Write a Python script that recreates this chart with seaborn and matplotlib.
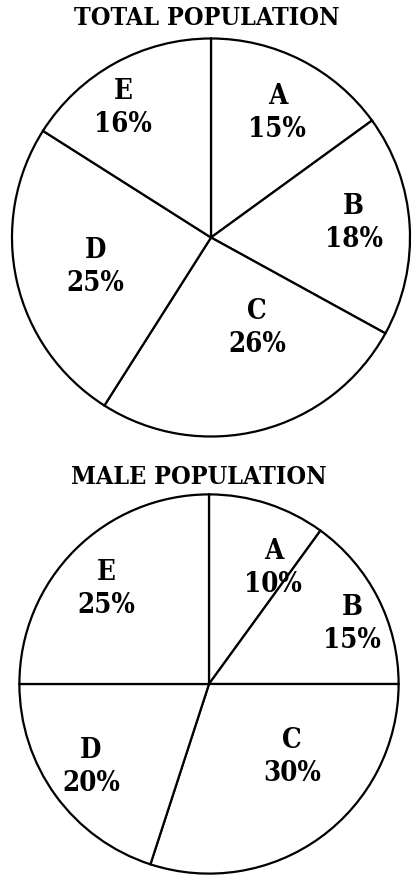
import matplotlib
matplotlib.use("Agg")
import matplotlib.pyplot as plt
import seaborn as sns
import numpy as np

# ---- data ----
regions = ["A", "B", "C", "D", "E"]
total_share = [15, 18, 26, 25, 16]
male_share = [10, 15, 30, 20, 25]
titles = ["TOTAL POPULATION", "MALE POPULATION"]

# ---- layout (label polar positions: compass angle deg, radius fraction) ----
total_label_pos = [(28, 0.71), (84, 0.72), (153, 0.51), (256, 0.60), (326, 0.79)]
male_label_pos = [(29, 0.70), (67, 0.82), (131, 0.58), (235, 0.76), (313, 0.74)]

sns.set_theme(style="white")
plt.rcParams["font.family"] = ["DejaVu Serif"]
plt.rcParams["text.color"] = "black"

FS_TITLE = 18.0
FS_LABEL = 19.8
STRETCH = "condensed"

W, H = 412, 876
fig = plt.figure(figsize=(W / 100, H / 100), dpi=100)
fig.patch.set_facecolor("white")

def pie_axes(cx, cy, r):
    return fig.add_axes([(cx - r) / W, (H - cy - r) / H, 2 * r / W, 2 * r / H])

def draw(ax, values, labpos, title, title_xy):
    ax.pie(values, startangle=90, counterclock=False, colors=["white"] * len(values),
           wedgeprops=dict(edgecolor="black", linewidth=1.6))
    ax.set_xlim(-1.01, 1.01)
    ax.set_ylim(-1.01, 1.01)
    ax.set_aspect("equal")
    ax.axis("off")
    for lab, v, (ang, rf) in zip(regions, values, labpos):
        t = np.deg2rad(ang)
        x, y = rf * np.sin(t), rf * np.cos(t)
        ax.annotate(lab, (x, y), xytext=(0, 16), textcoords="offset pixels",
                    ha="center", va="center", fontsize=FS_LABEL, fontweight="bold",
                    fontstretch=STRETCH, color="black")
        ax.annotate(f"{v}%", (x, y), xytext=(0, -17), textcoords="offset pixels",
                    ha="center", va="center", fontsize=FS_LABEL, fontweight="bold",
                    fontstretch=STRETCH, color="black")
    fig.text(title_xy[0] / W, 1 - title_xy[1] / H, title, ha="center", va="center",
             fontsize=FS_TITLE, fontweight="bold", fontstretch=STRETCH, color="black")

ax1 = pie_axes(211, 237.5, 201)
draw(ax1, total_share, total_label_pos, titles[0], (207, 18))

ax2 = pie_axes(209, 684, 191.5)
draw(ax2, male_share, male_label_pos, titles[1], (199, 477))

fig.savefig("out.png", dpi=100, facecolor="white")
